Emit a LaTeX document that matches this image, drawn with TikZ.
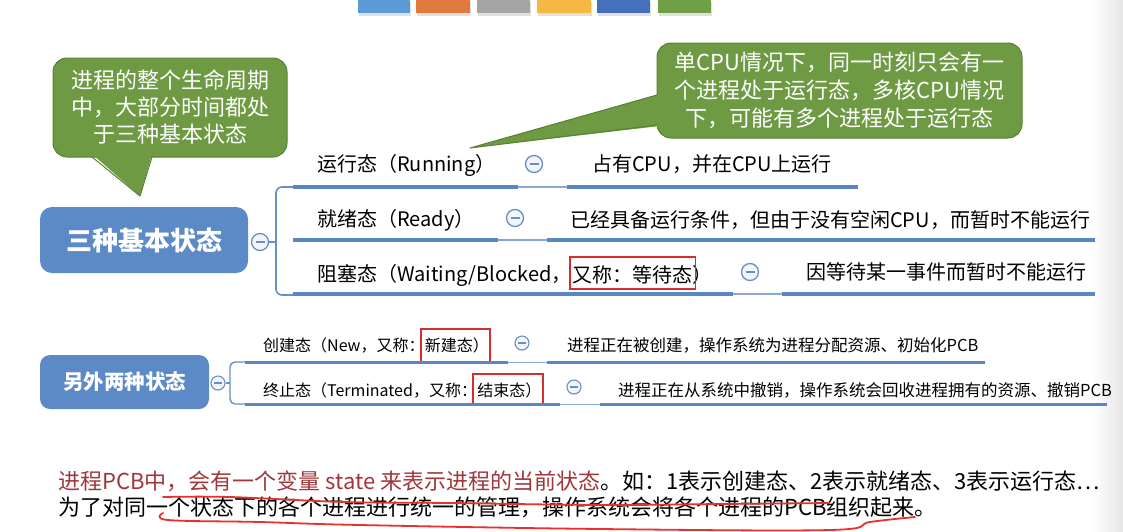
\documentclass[tikz,border=0pt]{standalone}
\usepackage{fontspec}
\setmainfont{Noto Sans CJK SC}
\usetikzlibrary{calc}
\definecolor{cgreen}{HTML}{6E9A43}
\definecolor{cborder}{HTML}{5A8034}
\definecolor{nodeblue}{HTML}{5B8AC7}
\definecolor{ulblue}{HTML}{5A86C4}
\definecolor{thinblue}{HTML}{89A9D6}
\definecolor{minusblue}{HTML}{6A8EC6}
\definecolor{minusfill}{HTML}{F2F5FB}
\definecolor{boxred}{HTML}{D62F2B}
\definecolor{darkred}{HTML}{A0363A}
\definecolor{penred}{HTML}{E8302C}
\definecolor{bA}{HTML}{5B9BD5}
\definecolor{bB}{HTML}{E07A3C}
\definecolor{bC}{HTML}{A5A5A5}
\definecolor{bD}{HTML}{F4B843}
\definecolor{bE}{HTML}{4470BE}
\definecolor{bF}{HTML}{6FA046}
\begin{document}
\begin{tikzpicture}[x=1pt,y=-1pt,
  bluebox/.style={rounded corners=12pt, fill=nodeblue, text=white, inner sep=0},
  greenbox/.style={rounded corners=14pt, fill=cgreen, draw=cborder, line width=1pt, text=white, align=center, inner sep=0},
  minusA/.style={circle, draw=minusblue, fill=minusfill, line width=1.3pt, minimum size=17pt, inner sep=0,
    path picture={\draw[minusblue, line width=1.3pt] ($(path picture bounding box.center)+(-4.5pt,0pt)$) -- ($(path picture bounding box.center)+(4.5pt,0pt)$);}},
  minusB/.style={circle, draw=minusblue, fill=minusfill, line width=1.1pt, minimum size=14pt, inner sep=0,
    path picture={\draw[minusblue, line width=1.1pt] ($(path picture bounding box.center)+(-3.6pt,0pt)$) -- ($(path picture bounding box.center)+(3.6pt,0pt)$);}},
  lbl/.style={anchor=west, inner sep=0, font=\fontsize{20}{24}\selectfont},
  lblS/.style={anchor=west, inner sep=0, font=\fontsize{16}{20}\selectfont},
  descS/.style={anchor=west, inner sep=0, font=\fontsize{16.5}{20}\selectfont},
  bottomtxt/.style={anchor=west, inner sep=0, font=\fontsize{22}{26}\selectfont},
  thickl/.style={draw=ulblue, line width=3.5pt},
  thinl/.style={draw=thinblue, line width=1.2pt},
  bracketl/.style={draw=minusblue, line width=1.6pt, rounded corners=6pt},
  redbox/.style={draw=boxred, line width=1.8pt},
  penstroke/.style={draw=penred, line width=1.8pt, line cap=round, line join=round}
]
\useasboundingbox (0,0) rectangle (1123,531);
\fill[white] (0,0) rectangle (1123,531);
% right edge shade
\shade[left color=white, right color=black!10] (1092,0) rectangle (1123,531);

% top colour bars
\foreach \xa/\xb/\c in {358/410/bA, 416/470/bB, 477/530/bC, 537/591/bD, 597/650/bE, 658/711/bF}{
  \fill[black!12] (\xa+1,2) rectangle (\xb+1,16);
  \fill[\c] (\xa,0) rectangle (\xb,13);
}

% ---------- callout 1 ----------
\node[greenbox, minimum width=234pt, minimum height=99pt, font=\fontsize{22}{27}\selectfont] (c1) at (170,107.5)
  {进程的整个生命周期\\中，大部分时间都处\\于三种基本状态};
\fill[cgreen] (92,154) -- (140,196) -- (152,154) -- cycle;
\draw[cborder, line width=1pt, line join=round] (92,157) -- (140,196) -- (152,157);

% ---------- callout 2 ----------
\node[greenbox, minimum width=365pt, minimum height=95pt, font=\fontsize{22}{28}\selectfont] (c2) at (839.5,90.5)
  {单CPU情况下，同一时刻只会有一\\个进程处于运行态，多核CPU情况\\下，可能有多个进程处于运行态};
\fill[cgreen] (660,94) -- (470,148) -- (660,126) -- cycle;
\draw[cborder, line width=1pt, line join=round] (657,95) -- (470,148) -- (657,125);

% ---------- group 1 ----------
\node[bluebox, minimum width=208pt, minimum height=66pt, font=\fontsize{26}{30}\selectfont\bfseries] (g1) at (144,240) {三种基本状态};
\node[minusA] (m0) at (260,242) {};
\coordinate (k0) at (276,242);
\coordinate (k1) at (293,187);
\coordinate (k3) at (293,295);
\draw[bracketl] (k1) -- (276,187) -- (276,295) -- (k3);
\draw[bracketl] (m0.east) -- (k0);

% row 1
\node[lbl] (r1) at (317,165) {运行态（Running）};
\node[minusA] (m1) at (534,164) {};
\node[lbl] (d1) at (592,164) {占有CPU，并在CPU上运行};
\coordinate (u1a) at (293,187); \coordinate (u1b) at (518,187);
\coordinate (u1c) at (567,187); \coordinate (u1d) at (858,187);
\draw[thinl] (u1b) -- (u1c);
\draw[thickl] (u1a) -- (u1b);
\draw[thickl] (u1c) -- (u1d);

% row 2
\node[lbl] (r2) at (317,220) {就绪态（Ready）};
\node[minusA] (m2) at (515,218) {};
\node[lbl] (d2) at (570,220) {已经具备运行条件，但由于没有空闲CPU，而暂时不能运行};
\coordinate (u2a) at (293,240); \coordinate (u2b) at (498,240);
\coordinate (u2c) at (547,240); \coordinate (u2d) at (1095,240);
\draw[thinl] (u2b) -- (u2c);
\draw[thickl] (u2a) -- (u2b);
\draw[thickl] (u2c) -- (u2d);

% row 3
\node[lbl] (r3a) at (317,275) {阻塞态（Waiting/Blocked，};
\node[lbl] (r3b) at (r3a.east) {又称：等待态};
\node[lbl] (r3c) at (r3b.east) {）};
\draw[redbox] ($(r3b.west)+(-2,-18)$) rectangle ($(r3c.west)+(3,14)$);
\node[minusA] (m3) at (750,272) {};
\node[lbl] (d3) at (806,272) {因等待某一事件而暂时不能运行};
\coordinate (u3a) at (293,294); \coordinate (u3b) at (733,294);
\coordinate (u3c) at (782,294); \coordinate (u3d) at (1095,294);
\draw[thinl] (u3b) -- (u3c);
\draw[thickl] (u3a) -- (u3b);
\draw[thickl] (u3c) -- (u3d);

% ---------- group 2 ----------
\node[bluebox, rounded corners=10pt, minimum width=169pt, minimum height=54pt, font=\fontsize{20.5}{24}\selectfont\bfseries] (g2) at (124.5,382) {另外两种状态};
\node[minusB] (n0) at (218,383) {};
\coordinate (j0) at (230,383);
\coordinate (j1) at (245,362);
\coordinate (j2) at (245,404);
\draw[bracketl, line width=1.4pt, rounded corners=5pt] (j1) -- (230,362) -- (230,404) -- (j2);
\draw[bracketl, line width=1.4pt] (n0.east) -- (j0);

% row 4
\node[lblS] (r4a) at (263,345) {创建态（New，又称：};
\node[lblS] (r4b) at (r4a.east) {新建态）};
\draw[redbox] ($(r4b.west)+(-4,-16)$) rectangle ($(r4b.east)+(1,17)$);
\node[minusB] (n1) at (522,343) {};
\node[descS] (d4) at (567,345) {进程正在被创建，操作系统为进程分配资源、初始化PCB};
\coordinate (v1a) at (245,362); \coordinate (v1b) at (508,362);
\coordinate (v1c) at (547,362); \coordinate (v1d) at (985,362);
\draw[thinl, line width=1pt] (v1b) -- (v1c);
\draw[thickl, line width=3pt] (v1a) -- (v1b);
\draw[thickl, line width=3pt] (v1c) -- (v1d);

% row 5
\node[lblS] (r5a) at (263,390) {终止态（Terminated，又称：};
\node[lblS] (r5b) at (r5a.east) {结束态）};
\draw[redbox] ($(r5b.west)+(-4,-16)$) rectangle ($(r5b.east)+(1,15)$);
\node[minusB] (n2) at (574,387) {};
\node[descS] (d5) at (618,390) {进程正在从系统中撤销，操作系统会回收进程拥有的资源、撤销PCB};
\coordinate (v2a) at (245,404); \coordinate (v2b) at (560,404);
\coordinate (v2c) at (600,404); \coordinate (v2d) at (1107,404);
\draw[thinl, line width=1pt] (v2b) -- (v2c);
\draw[thickl, line width=3pt] (v2a) -- (v2b);
\draw[thickl, line width=3pt] (v2c) -- (v2d);

% ---------- bottom text ----------
\node[bottomtxt] (t1) at (58,481) {\textcolor{darkred}{进程PCB中，会有一个变量 state 来表示进程的当前状态}。如：1表示创建态、2表示就绪态、3表示运行态…};
\node[bottomtxt] (t2) at (58,507) {为了对同一个状态下的各个进程进行统一的管理，操作系统会将各个进程的PCB组织起来。};

% hand-drawn pen strokes
\draw[penstroke] plot[smooth, tension=0.6] coordinates {(163,497) (230,497) (344,502) (450,503) (600,505) (720,504) (829,503)};
\draw[penstroke] plot[smooth, tension=0.6] coordinates {(163,513) (168,520) (260,522) (360,525) (600,529) (830,530) (870,522) (915,517)};
\end{tikzpicture}
\end{document}
